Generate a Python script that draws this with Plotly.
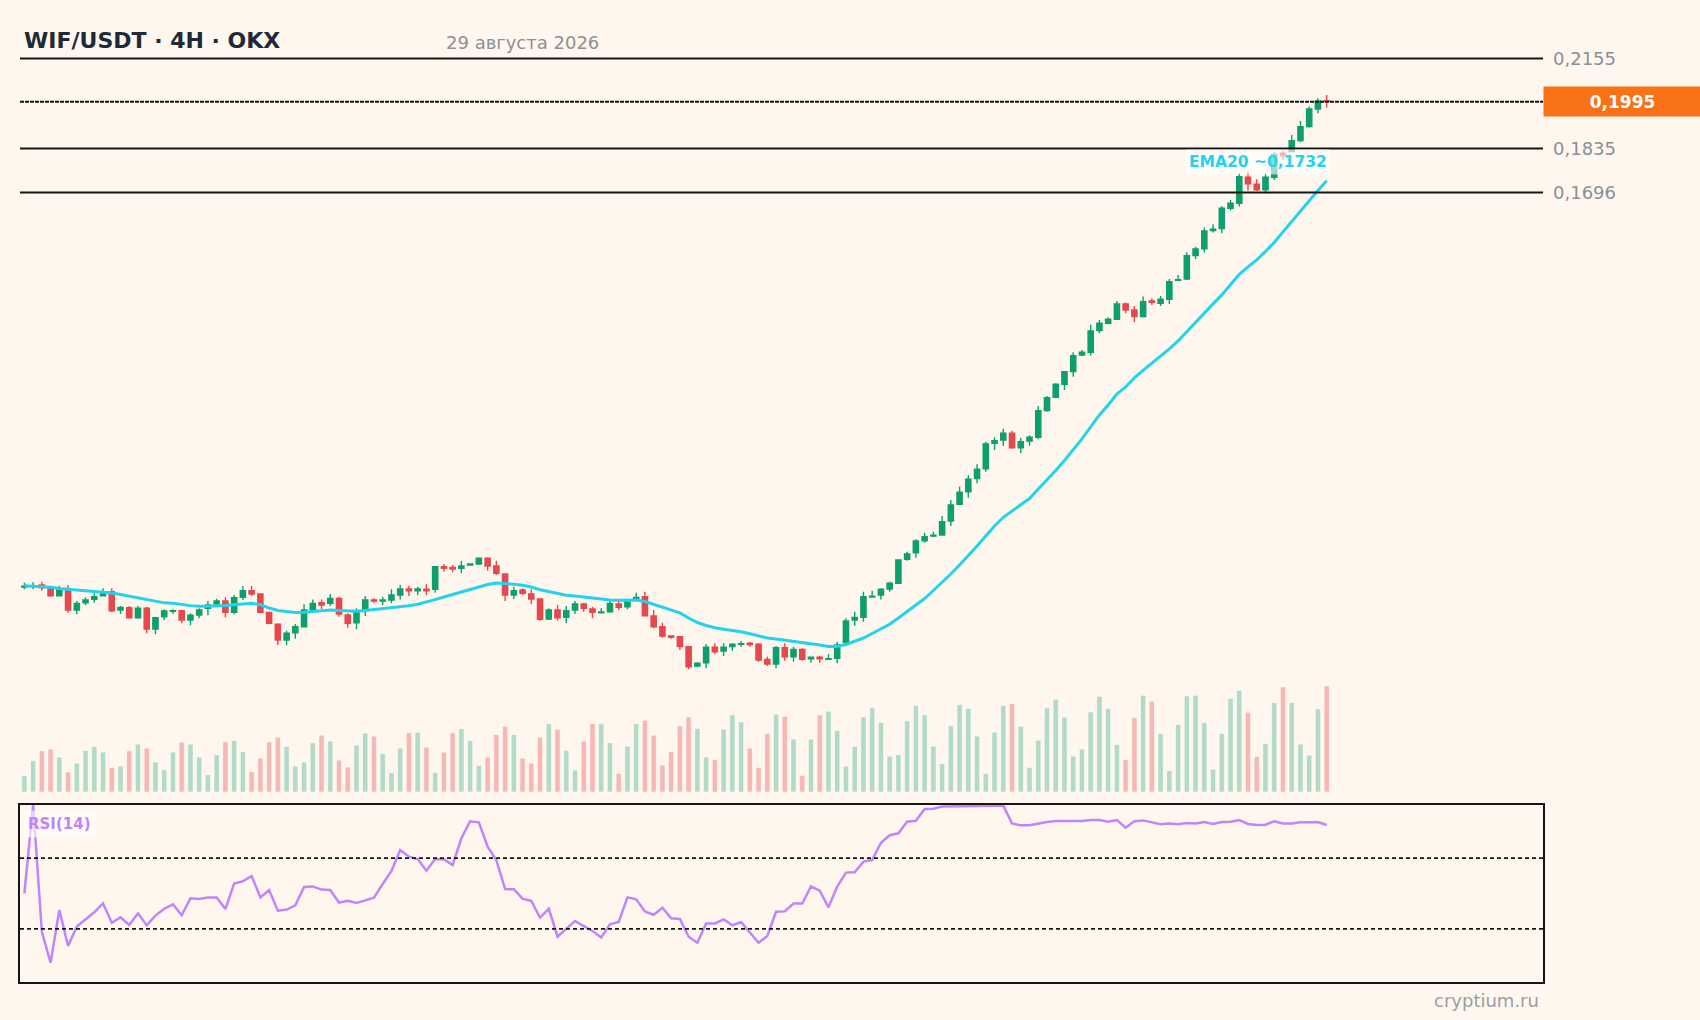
import math
import plotly.graph_objects as go

# ---------------- data ----------------
title_text = "WIF/USDT · 4H · OKX"
date_text = "29 августа 2026"
watermark_text = "cryptium.ru"
rsi_label = "RSI(14)"
level_prices = [0.2155, 0.1835, 0.1696]
last_price = 0.1995
rsi_levels = [70, 30]

opens = [
    0.08386, 0.08397, 0.08416, 0.08367, 0.08257, 0.08341, 0.08048, 0.08154, 0.08203, 0.08257,
    0.08316, 0.08048, 0.08081, 0.07939, 0.08073, 0.07780, 0.07953, 0.08030, 0.08038, 0.07906,
    0.07977, 0.08073, 0.08135, 0.08179, 0.08015, 0.08233, 0.08331, 0.08282, 0.08015, 0.07846,
    0.07629, 0.07729, 0.07812, 0.08048, 0.08154, 0.08145, 0.08218, 0.07977, 0.07868, 0.08048,
    0.08193, 0.08179, 0.08193, 0.08267, 0.08356, 0.08331, 0.08352, 0.08352, 0.08696, 0.08686,
    0.08671, 0.08722, 0.08738, 0.08827, 0.08706, 0.08583, 0.08267, 0.08341, 0.08282, 0.08208,
    0.07920, 0.08048, 0.07944, 0.08048, 0.08135, 0.08063, 0.08010, 0.08024, 0.08135, 0.08096,
    0.08208, 0.08242, 0.07963, 0.07812, 0.07684, 0.07674, 0.07539, 0.07283, 0.07326, 0.07530,
    0.07481, 0.07539, 0.07571, 0.07584, 0.07571, 0.07370, 0.07309, 0.07525, 0.07405, 0.07503,
    0.07378, 0.07397, 0.07370, 0.07384, 0.07593, 0.07906, 0.07944, 0.08237, 0.08267, 0.08356,
    0.08442, 0.08811, 0.08916, 0.09109, 0.09186, 0.09203, 0.09435, 0.09721, 0.09942, 0.10176,
    0.10359, 0.10840, 0.10904, 0.11035, 0.10755, 0.10885, 0.10957, 0.11490, 0.11768, 0.12045,
    0.12319, 0.12692, 0.12754, 0.13256, 0.13432, 0.13528, 0.13903, 0.13754, 0.13591, 0.13977,
    0.13920, 0.14020, 0.14503, 0.14537, 0.15155, 0.15337, 0.15846, 0.15903, 0.16493, 0.16641,
    0.17433, 0.17216, 0.17041, 0.17433, 0.18195, 0.18247, 0.18608, 0.19080, 0.19692, 0.19986,
]
highs = [
    0.08451, 0.08457, 0.08466, 0.08391, 0.08406, 0.08416, 0.08179, 0.08233, 0.08292, 0.08367,
    0.08367, 0.08106, 0.08106, 0.08106, 0.08096, 0.07953, 0.08058, 0.08058, 0.08048, 0.08001,
    0.08073, 0.08179, 0.08212, 0.08233, 0.08267, 0.08401, 0.08401, 0.08292, 0.08024, 0.07860,
    0.07756, 0.07850, 0.08131, 0.08203, 0.08203, 0.08282, 0.08242, 0.08001, 0.08073, 0.08252,
    0.08218, 0.08242, 0.08352, 0.08416, 0.08406, 0.08391, 0.08431, 0.08706, 0.08738, 0.08722,
    0.08789, 0.08749, 0.08843, 0.08843, 0.08789, 0.08594, 0.08391, 0.08367, 0.08352, 0.08218,
    0.08073, 0.08121, 0.08106, 0.08179, 0.08154, 0.08096, 0.08073, 0.08179, 0.08179, 0.08203,
    0.08301, 0.08316, 0.08048, 0.07868, 0.07693, 0.07684, 0.07548, 0.07331, 0.07575, 0.07584,
    0.07584, 0.07584, 0.07615, 0.07602, 0.07584, 0.07405, 0.07548, 0.07584, 0.07539, 0.07517,
    0.07405, 0.07414, 0.07437, 0.07606, 0.07930, 0.08024, 0.08316, 0.08331, 0.08367, 0.08466,
    0.08811, 0.08932, 0.09132, 0.09240, 0.09257, 0.09520, 0.09796, 0.10031, 0.10238, 0.10441,
    0.10871, 0.10957, 0.11126, 0.11086, 0.10949, 0.10996, 0.11587, 0.11796, 0.12066, 0.12334,
    0.12754, 0.12806, 0.13392, 0.13511, 0.13567, 0.13977, 0.13935, 0.13853, 0.14085, 0.14045,
    0.14103, 0.14537, 0.14641, 0.15247, 0.15400, 0.15932, 0.16029, 0.16561, 0.16739, 0.17558,
    0.17608, 0.17370, 0.17558, 0.18237, 0.18270, 0.18799, 0.19275, 0.19774, 0.20072, 0.20190,
]
lows = [
    0.08352, 0.08352, 0.08331, 0.08242, 0.08252, 0.08010, 0.07987, 0.08116, 0.08154, 0.08252,
    0.08015, 0.07991, 0.07925, 0.07925, 0.07721, 0.07707, 0.07906, 0.07991, 0.07860, 0.07832,
    0.07930, 0.07973, 0.08116, 0.07944, 0.07987, 0.08193, 0.08252, 0.08001, 0.07846, 0.07562,
    0.07557, 0.07647, 0.07804, 0.08024, 0.08058, 0.08106, 0.07953, 0.07798, 0.07776, 0.07963,
    0.08154, 0.08121, 0.08145, 0.08203, 0.08252, 0.08267, 0.08267, 0.08301, 0.08618, 0.08609,
    0.08594, 0.08711, 0.08733, 0.08633, 0.08568, 0.08179, 0.08208, 0.08267, 0.08135, 0.07896,
    0.07906, 0.07896, 0.07860, 0.07991, 0.08024, 0.07930, 0.08010, 0.08010, 0.08048, 0.08058,
    0.08203, 0.07963, 0.07790, 0.07661, 0.07647, 0.07494, 0.07240, 0.07266, 0.07253, 0.07437,
    0.07414, 0.07485, 0.07539, 0.07539, 0.07339, 0.07283, 0.07253, 0.07352, 0.07339, 0.07352,
    0.07326, 0.07326, 0.07361, 0.07318, 0.07584, 0.07826, 0.07882, 0.08233, 0.08203, 0.08316,
    0.08431, 0.08789, 0.08837, 0.09077, 0.09165, 0.09191, 0.09352, 0.09709, 0.09837, 0.10093,
    0.10304, 0.10711, 0.10788, 0.10736, 0.10648, 0.10794, 0.10918, 0.11469, 0.11747, 0.11922,
    0.12209, 0.12669, 0.12677, 0.13194, 0.13408, 0.13511, 0.13674, 0.13456, 0.13567, 0.13878,
    0.13853, 0.13903, 0.14485, 0.14511, 0.15065, 0.15236, 0.15790, 0.15773, 0.16423, 0.16541,
    0.17020, 0.17011, 0.16941, 0.17348, 0.17979, 0.18228, 0.18555, 0.19046, 0.19542, 0.19739,
]
closes = [
    0.08397, 0.08406, 0.08376, 0.08257, 0.08341, 0.08048, 0.08145, 0.08193, 0.08242, 0.08316,
    0.08038, 0.08087, 0.07939, 0.08073, 0.07780, 0.07939, 0.08034, 0.08038, 0.07906, 0.07973,
    0.08048, 0.08121, 0.08179, 0.08015, 0.08227, 0.08331, 0.08282, 0.08015, 0.07860, 0.07629,
    0.07721, 0.07812, 0.08048, 0.08145, 0.08121, 0.08218, 0.07991, 0.07860, 0.08024, 0.08193,
    0.08179, 0.08193, 0.08267, 0.08356, 0.08331, 0.08356, 0.08331, 0.08696, 0.08671, 0.08660,
    0.08706, 0.08738, 0.08827, 0.08706, 0.08594, 0.08267, 0.08331, 0.08292, 0.08208, 0.07916,
    0.08048, 0.07939, 0.08038, 0.08135, 0.08073, 0.08015, 0.08020, 0.08145, 0.08087, 0.08183,
    0.08233, 0.07967, 0.07812, 0.07684, 0.07666, 0.07539, 0.07274, 0.07318, 0.07530, 0.07471,
    0.07530, 0.07571, 0.07579, 0.07566, 0.07361, 0.07309, 0.07525, 0.07405, 0.07503, 0.07370,
    0.07397, 0.07378, 0.07378, 0.07562, 0.07892, 0.07944, 0.08242, 0.08248, 0.08352, 0.08442,
    0.08800, 0.08895, 0.09104, 0.09174, 0.09198, 0.09424, 0.09709, 0.09932, 0.10165, 0.10348,
    0.10827, 0.10890, 0.11035, 0.10755, 0.10871, 0.10957, 0.11490, 0.11760, 0.12045, 0.12319,
    0.12677, 0.12754, 0.13249, 0.13432, 0.13528, 0.13903, 0.13754, 0.13591, 0.13960, 0.13945,
    0.14020, 0.14467, 0.14519, 0.15155, 0.15337, 0.15838, 0.15886, 0.16493, 0.16641, 0.17451,
    0.17225, 0.17041, 0.17433, 0.18157, 0.18108, 0.18608, 0.19080, 0.19692, 0.19976, 0.19950,
]
volumes = [
    49, 94, 124, 129, 105, 60, 87, 125, 137, 120,
    74, 78, 124, 144, 132, 90, 67, 120, 150, 144,
    105, 52, 112, 151, 155, 121, 61, 102, 151, 165,
    137, 78, 90, 148, 171, 153, 96, 75, 141, 177,
    168, 116, 58, 132, 179, 180, 135, 59, 120, 178,
    191, 155, 80, 105, 173, 198, 173, 102, 87, 165,
    205, 189, 125, 66, 153, 206, 205, 148, 56, 138,
    205, 216, 171, 81, 121, 199, 226, 191, 105, 98,
    189, 232, 211, 132, 74, 176, 234, 228, 159, 50,
    159, 232, 243, 185, 78, 137, 226, 254, 209, 108,
    112, 214, 260, 232, 138, 85, 199, 263, 251, 168,
    55, 180, 260, 266, 198, 74, 156, 253, 279, 225,
    108, 129, 241, 288, 251, 143, 97, 224, 291, 273,
    176, 64, 203, 289, 291, 209, 69, 176, 282, 306,
    240, 107, 146, 269, 316, 269, 144, 111, 250, 319,
]
ema20 = [
    0.08406, 0.08401, 0.08394, 0.08382, 0.08364, 0.08349, 0.08337, 0.08329, 0.08319, 0.08308,
    0.08297, 0.08274, 0.08248, 0.08220, 0.08193, 0.08167, 0.08152, 0.08145, 0.08126, 0.08112,
    0.08102, 0.08102, 0.08106, 0.08113, 0.08125, 0.08136, 0.08145, 0.08128, 0.08077, 0.08041,
    0.08024, 0.08013, 0.08015, 0.08030, 0.08039, 0.08048, 0.08041, 0.08032, 0.08030, 0.08042,
    0.08055, 0.08065, 0.08076, 0.08091, 0.08110, 0.08131, 0.08160, 0.08200, 0.08237, 0.08273,
    0.08304, 0.08341, 0.08386, 0.08424, 0.08446, 0.08439, 0.08427, 0.08413, 0.08386, 0.08346,
    0.08316, 0.08282, 0.08263, 0.08252, 0.08237, 0.08218, 0.08203, 0.08193, 0.08189, 0.08189,
    0.08193, 0.08171, 0.08132, 0.08094, 0.08048, 0.08008, 0.07934, 0.07871, 0.07829, 0.07797,
    0.07777, 0.07759, 0.07743, 0.07714, 0.07680, 0.07656, 0.07643, 0.07626, 0.07616, 0.07599,
    0.07584, 0.07562, 0.07540, 0.07541, 0.07568, 0.07609, 0.07656, 0.07718, 0.07780, 0.07846,
    0.07934, 0.08027, 0.08121, 0.08215, 0.08334, 0.08453, 0.08583, 0.08722, 0.08864, 0.09023,
    0.09186, 0.09352, 0.09498, 0.09605, 0.09709, 0.09822, 0.09990, 0.10152, 0.10326, 0.10512,
    0.10711, 0.10924, 0.11160, 0.11402, 0.11608, 0.11838, 0.11987, 0.12181, 0.12345, 0.12500,
    0.12658, 0.12829, 0.13014, 0.13237, 0.13463, 0.13681, 0.13903, 0.14128, 0.14383, 0.14655,
    0.14852, 0.15038, 0.15268, 0.15516, 0.15810, 0.16109, 0.16414, 0.16709, 0.17026, 0.17320,
]
rsi14 = [
    50.1, 100.0, 28.4, 10.9, 40.7, 20.3, 31.3, 35.6, 39.4, 44.4,
    33.5, 36.5, 32.2, 38.8, 32.0, 37.5, 41.4, 43.9, 37.7, 47.3,
    46.9, 47.8, 47.8, 41.2, 55.6, 56.9, 59.9, 47.8, 52.0, 40.3,
    40.9, 43.3, 53.7, 54.0, 52.2, 52.0, 44.8, 45.9, 44.6, 46.1,
    47.6, 55.4, 62.7, 74.6, 70.8, 69.5, 62.9, 69.5, 69.3, 66.1,
    81.2, 90.8, 90.2, 76.5, 68.9, 52.5, 52.4, 47.1, 45.8, 36.3,
    41.4, 25.6, 30.3, 34.5, 31.6, 28.8, 25.2, 32.6, 33.9, 47.8,
    46.7, 39.9, 38.0, 42.0, 36.0, 35.6, 25.6, 22.2, 33.1, 33.1,
    35.4, 32.0, 33.9, 27.9, 22.2, 26.0, 39.7, 39.9, 44.3, 44.3,
    54.0, 51.6, 42.2, 53.9, 61.8, 62.0, 68.0, 68.9, 78.7, 82.9,
    84.0, 90.6, 91.1, 97.7, 97.9, 99.1, 99.3, 99.4, 99.5, 99.5,
    99.6, 99.6, 99.6, 89.6, 88.5, 88.5, 89.6, 90.4, 91.0, 91.0,
    91.1, 91.0, 91.5, 91.5, 90.6, 91.5, 87.2, 90.8, 91.3, 90.2,
    89.1, 89.5, 89.1, 89.8, 89.5, 90.4, 89.3, 90.4, 90.6, 91.5,
    89.3, 88.7, 88.9, 90.8, 89.6, 89.6, 90.2, 90.2, 90.4, 88.7,
]

# ---------------- styling / layout ----------------
BG = "#fff7ed"
GREEN = "#0e9f6e"
RED = "#e5484d"
GREEN_VOL = "rgba(14,159,110,0.32)"
RED_VOL = "rgba(229,72,77,0.36)"
CYAN = "#22d3ee"
PURPLE = "#c084fc"
ORANGE = "#f97316"
FONT = "DejaVu Sans"

W, H = 1700, 1020
ML, MR, MT, MB = 20, 157, 50, 38
PW, PH = W - ML - MR, H - MT - MB


def fx(px):
    return (px - ML) / PW


def fy(py):
    return (H - MB - py) / PH


def fmt(v):
    return f"{v:.4f}".replace(".", ",")


x = list(range(len(closes)))
x_range = [-0.5, len(closes) + 23.75]
main_domain = [fy(792), 1.0]
rsi_domain = [0.0, fy(805)]
price_range = [-1.2354, -0.6600]   # log10 of price

fig = go.Figure()

vol_colors = [GREEN_VOL if c >= o else RED_VOL for o, c in zip(opens, closes)]
fig.add_trace(go.Bar(
    x=x, y=volumes, xaxis="x", yaxis="y2", width=0.6,
    marker=dict(color=vol_colors, line=dict(color="rgba(255,255,255,0.55)", width=1)),
    showlegend=False, hoverinfo="skip",
))

fig.add_trace(go.Candlestick(
    x=x, open=opens, high=highs, low=lows, close=closes,
    xaxis="x", yaxis="y",
    increasing=dict(line=dict(color=GREEN, width=1.4), fillcolor=GREEN),
    decreasing=dict(line=dict(color=RED, width=1.4), fillcolor=RED),
    whiskerwidth=0, showlegend=False, hoverinfo="skip",
))

fig.add_trace(go.Scatter(
    x=x, y=ema20, xaxis="x", yaxis="y", mode="lines",
    line=dict(color=CYAN, width=3), showlegend=False, hoverinfo="skip",
))

fig.add_trace(go.Scatter(
    x=x, y=rsi14, xaxis="x2", yaxis="y3", mode="lines",
    line=dict(color=PURPLE, width=2.5), showlegend=False, hoverinfo="skip",
))

shapes = []
for p in level_prices:
    shapes.append(dict(type="line", xref="paper", x0=0, x1=1, yref="y", y0=p, y1=p,
                       line=dict(color="#151515", width=2)))
shapes.append(dict(type="line", xref="paper", x0=0, x1=1, yref="y", y0=last_price, y1=last_price,
                   line=dict(color="#151515", width=2, dash="4px,1px")))
for lv in rsi_levels:
    shapes.append(dict(type="line", xref="paper", x0=0, x1=1, yref="y3", y0=lv, y1=lv,
                       line=dict(color="#151515", width=1.6, dash="4px,3px")))

annotations = [
    dict(text=f"<b>{title_text}</b>", xref="paper", yref="paper", x=fx(22), y=fy(41),
         xanchor="left", yanchor="middle", showarrow=False,
         font=dict(family=FONT, size=22, color="#1f2937")),
    dict(text=date_text, xref="paper", yref="paper", x=fx(444), y=fy(42),
         xanchor="left", yanchor="middle", showarrow=False,
         font=dict(family=FONT, size=18, color="#8c9098")),
    dict(text=f"<b>{fmt(last_price)}</b>", xref="paper", yref="y", x=1.0, y=math.log10(last_price),
         xanchor="left", yanchor="middle", showarrow=False, bgcolor=ORANGE,
         width=149, height=21, borderpad=4, align="center",
         font=dict(family=FONT, size=17, color="#ffffff")),
    dict(text=f"<b>EMA20 ~{fmt(ema20[-1])}</b>", xref="x", yref="y", x=x[-1], y=math.log10(ema20[-1]),
         xanchor="right", yanchor="middle", yshift=19, xshift=4, showarrow=False,
         bgcolor="rgba(255,255,255,0.6)", borderpad=3,
         font=dict(family=FONT, size=15.5, color=CYAN)),
    dict(text=f"<b>{rsi_label}</b>", xref="paper", yref="paper", x=fx(23), y=fy(823.5),
         xanchor="left", yanchor="middle", showarrow=False,
         bgcolor="rgba(255,255,255,0.6)", borderpad=4,
         font=dict(family=FONT, size=15, color=PURPLE)),
    dict(text=watermark_text, xref="paper", yref="paper", x=fx(1541), y=fy(1000),
         xanchor="right", yanchor="middle", showarrow=False,
         font=dict(family=FONT, size=18, color="#9a9ea6")),
]

fig.update_layout(
    width=W, height=H,
    margin=dict(l=ML, r=MR, t=MT, b=MB),
    paper_bgcolor=BG, plot_bgcolor=BG,
    font=dict(family=FONT),
    showlegend=False,
    bargap=0.4,
    boxgap=0.15,
    xaxis=dict(domain=[0, 1], range=x_range, anchor="y", showticklabels=False, showgrid=False,
               zeroline=False, showline=False, ticks="", rangeslider=dict(visible=False)),
    xaxis2=dict(domain=[0, 1], range=x_range, anchor="y3", showticklabels=False, showgrid=False,
                zeroline=False, showline=True, mirror=True, linecolor="#151515", linewidth=2, ticks=""),
    yaxis=dict(domain=main_domain, type="log", range=price_range, anchor="x", side="right",
               tickvals=level_prices, ticktext=[fmt(p) for p in level_prices],
               tickfont=dict(family=FONT, size=18, color="#8a8f98"),
               showgrid=False, zeroline=False, showline=False, ticks="", ticklabelstandoff=9),
    yaxis2=dict(overlaying="y", range=[0, max(volumes) * 7.0], visible=False, showgrid=False),
    yaxis3=dict(domain=rsi_domain, range=[0, 100], anchor="x2", showticklabels=False, showgrid=False,
                zeroline=False, showline=True, mirror=True, linecolor="#151515", linewidth=2, ticks=""),
    shapes=shapes,
    annotations=annotations,
)

fig.write_html(
    "out.html",
    config={"displayModeBar": False},
    post_script=(
        "document.body.style.margin='0px';"
        f"document.body.style.background='{BG}';"
    ),
)
